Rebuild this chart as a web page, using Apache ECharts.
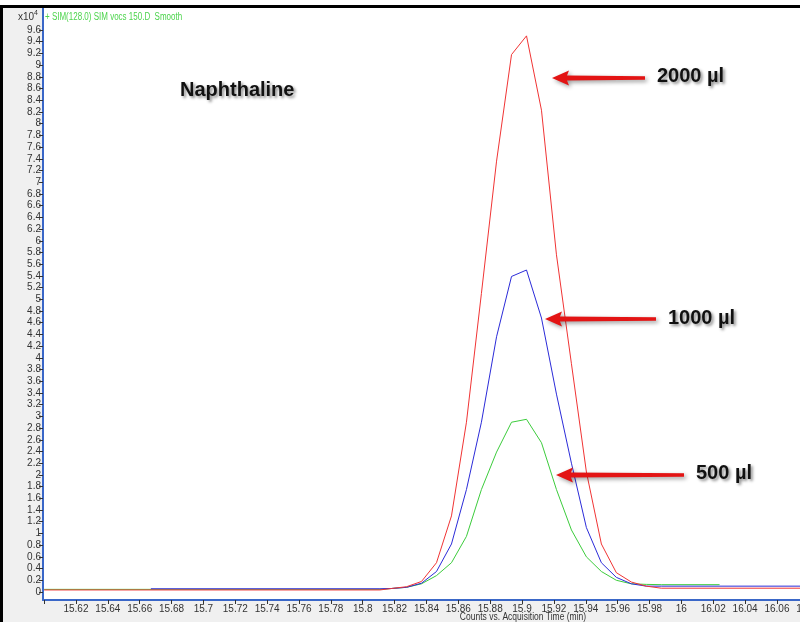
<!DOCTYPE html>
<html>
<head>
<meta charset="utf-8">
<script src="https://cdn.jsdelivr.net/npm/echarts@6/dist/echarts.min.js"></script>
<style>html,body{margin:0;padding:0;background:#fff}#c{width:800px;height:622px}</style>
</head>
<body>
<div id="c"></div>
<script>
// ---- data ----
const redTime   = [15.600, 15.8108, 15.8181, 15.8275, 15.8369, 15.8463, 15.8557, 15.8651, 15.8745, 15.8840, 15.8934, 15.9028, 15.9122, 15.9216, 15.9310, 15.9404, 15.9498, 15.9592, 15.9686, 15.9780, 15.9874, 16.080];
const redVal    = [0.035, 0.035, 0.06, 0.09, 0.18, 0.50, 1.30, 2.90, 5.10, 7.36, 9.18, 9.50, 8.23, 5.76, 3.90, 2.05, 0.82, 0.33, 0.17, 0.10, 0.065, 0.065];

const blueTime  = [15.667, 15.8108, 15.8181, 15.8275, 15.8369, 15.8463, 15.8557, 15.8651, 15.8745, 15.8840, 15.8934, 15.9028, 15.9122, 15.9216, 15.9310, 15.9404, 15.9498, 15.9592, 15.9686, 15.9780, 15.9874, 16.080];
const blueVal   = [0.055, 0.055, 0.06, 0.08, 0.15, 0.35, 0.82, 1.75, 2.90, 4.36, 5.39, 5.50, 4.68, 3.38, 2.20, 1.10, 0.50, 0.25, 0.14, 0.10, 0.10, 0.10];

const greenTime = [15.600, 15.8108, 15.8181, 15.8275, 15.8369, 15.8463, 15.8557, 15.8651, 15.8745, 15.8840, 15.8934, 15.9028, 15.9122, 15.9216, 15.9310, 15.9404, 15.9498, 15.9592, 15.9686, 15.9780, 15.9874, 16.024];
const greenVal  = [0.045, 0.045, 0.06, 0.08, 0.14, 0.28, 0.50, 0.95, 1.75, 2.39, 2.90, 2.95, 2.55, 1.75, 1.06, 0.60, 0.35, 0.20, 0.14, 0.13, 0.125, 0.125];

const xTicks = [15.6, 15.62, 15.64, 15.66, 15.68, 15.7, 15.72, 15.74, 15.76, 15.78, 15.8, 15.82, 15.84, 15.86, 15.88, 15.9, 15.92, 15.94, 15.96, 15.98, 16, 16.02, 16.04, 16.06, 16.08];
const xLabels = [15.62, 15.64, 15.66, 15.68, 15.7, 15.72, 15.74, 15.76, 15.78, 15.8, 15.82, 15.84, 15.86, 15.88, 15.9, 15.92, 15.94, 15.96, 15.98, 16, 16.02, 16.04, 16.06, 16.08];
const yTicks = [0, 0.2, 0.4, 0.6, 0.8, 1, 1.2, 1.4, 1.6, 1.8, 2, 2.2, 2.4, 2.6, 2.8, 3, 3.2, 3.4, 3.6, 3.8, 4, 4.2, 4.4, 4.6, 4.8, 5, 5.2, 5.4, 5.6, 5.8, 6, 6.2, 6.4, 6.6, 6.8, 7, 7.2, 7.4, 7.6, 7.8, 8, 8.2, 8.4, 8.6, 8.8, 9, 9.2, 9.4, 9.6];

const seriesNames = ['2000 µl', '1000 µl', '500 µl'];
const annotations = [
  {text: '2000 µl', tail: 645, tip: 552, y: 78, tx: 657, ty: 76},
  {text: '1000 µl', tail: 656, tip: 545, y: 319, tx: 668, ty: 318},
  {text: '500 µl',  tail: 684, tip: 556, y: 475, tx: 696, ty: 473}
];

function pairs(t, v) { return t.map((x, i) => [x, v[i]]); }
function fmt(v) { return parseFloat(v.toFixed(2)).toString(); }

const chart = echarts.init(document.getElementById('c'), null, {renderer: 'canvas'});

const FONT = 'Liberation Sans';
const shadowText = {
  fontFamily: FONT, fontWeight: 'bold', fontSize: 20, fill: '#111',
  textShadowColor: 'rgba(0,0,0,0.45)', textShadowBlur: 3, textShadowOffsetX: 2, textShadowOffsetY: 2
};

function arrow(a) {
  const h = 7.5, s = 2.4, hl = 17;
  return {
    type: 'polygon', z: 100,
    shape: {points: [[a.tip, a.y], [a.tip + hl, a.y - h], [a.tip + hl - 2, a.y - s], [a.tail, a.y - s + 0.6], [a.tail, a.y + s - 0.6], [a.tip + hl - 2, a.y + s], [a.tip + hl, a.y + h]]},
    style: {fill: '#e31414', shadowColor: 'rgba(0,0,0,0.4)', shadowBlur: 4, shadowOffsetX: 2, shadowOffsetY: 2}
  };
}

const graphics = [
  {type: 'rect', z: -1, shape: {x: 0, y: 0, width: 800, height: 5}, style: {fill: '#ffffff'}},
  {type: 'rect', z: 50, shape: {x: 0, y: 5, width: 800, height: 3}, style: {fill: '#000000'}},
  {type: 'rect', z: 50, shape: {x: 0, y: 5, width: 3, height: 617}, style: {fill: '#000000'}},
  {type: 'text', z: 60, x: 18, y: 12, style: {text: 'x10', fontFamily: FONT, fontSize: 10, fill: '#333'}},
  {type: 'text', z: 60, x: 34, y: 10, style: {text: '4', fontFamily: FONT, fontSize: 7, fill: '#333'}},
  {type: 'text', z: 60, x: 45, y: 12, scaleX: 0.8, style: {text: '+ SIM(128.0) SIM vocs 150.D  Smooth', fontFamily: FONT, fontSize: 10, fill: '#4cd44c'}},
  {type: 'text', z: 60, x: 180, y: 80, style: Object.assign({text: 'Naphthaline'}, shadowText)},
  {type: 'text', z: 60, x: 523, y: 612, scaleX: 0.85, style: {text: 'Counts vs. Acquisition Time (min)', fontFamily: FONT, fontSize: 10, fill: '#333', align: 'center'}}
];
annotations.forEach(a => {
  graphics.push(arrow(a));
  graphics.push({type: 'text', z: 100, x: a.tx, y: a.ty, style: Object.assign({text: a.text, verticalAlign: 'middle'}, shadowText)});
});

chart.setOption({
  animation: false,
  backgroundColor: '#f0f0f0',
  grid: {left: 43, top: 8, width: 765.8, height: 592, outerBoundsMode: 'none', containLabel: false, show: true, backgroundColor: '#ffffff', borderWidth: 0},
  xAxis: {
    type: 'value', min: 15.5993, max: 16.08,
    splitLine: {show: false},
    axisLine: {show: true, onZero: false, lineStyle: {color: '#3a67c8', width: 2}},
    axisTick: {show: true, length: 4, lineStyle: {color: '#333'}, customValues: xTicks},
    axisLabel: {customValues: xLabels, formatter: v => fmt(v), fontFamily: FONT, fontSize: 10, color: '#333', margin: 4, hideOverlap: false}
  },
  yAxis: {
    type: 'value', min: -0.1367, max: 9.976,
    splitLine: {show: false},
    axisLine: {show: true, onZero: false, lineStyle: {color: '#3a67c8', width: 2}},
    axisTick: {show: true, length: 4, lineStyle: {color: '#333'}, customValues: yTicks},
    axisLabel: {customValues: yTicks, formatter: v => fmt(v), fontFamily: FONT, fontSize: 10, color: '#333', margin: 2}
  },
  series: [
    {name: seriesNames[2], type: 'line', data: pairs(greenTime, greenVal), showSymbol: false, lineStyle: {color: '#3ccc3c', width: 1}, itemStyle: {color: '#3ccc3c'}},
    {name: seriesNames[1], type: 'line', data: pairs(blueTime, blueVal), showSymbol: false, lineStyle: {color: '#2b2bd8', width: 1}, itemStyle: {color: '#2b2bd8'}},
    {name: seriesNames[0], type: 'line', data: pairs(redTime, redVal), showSymbol: false, lineStyle: {color: '#f03434', width: 1}, itemStyle: {color: '#f03434'}}
  ],
  graphic: graphics
});
</script>
</body>
</html>
